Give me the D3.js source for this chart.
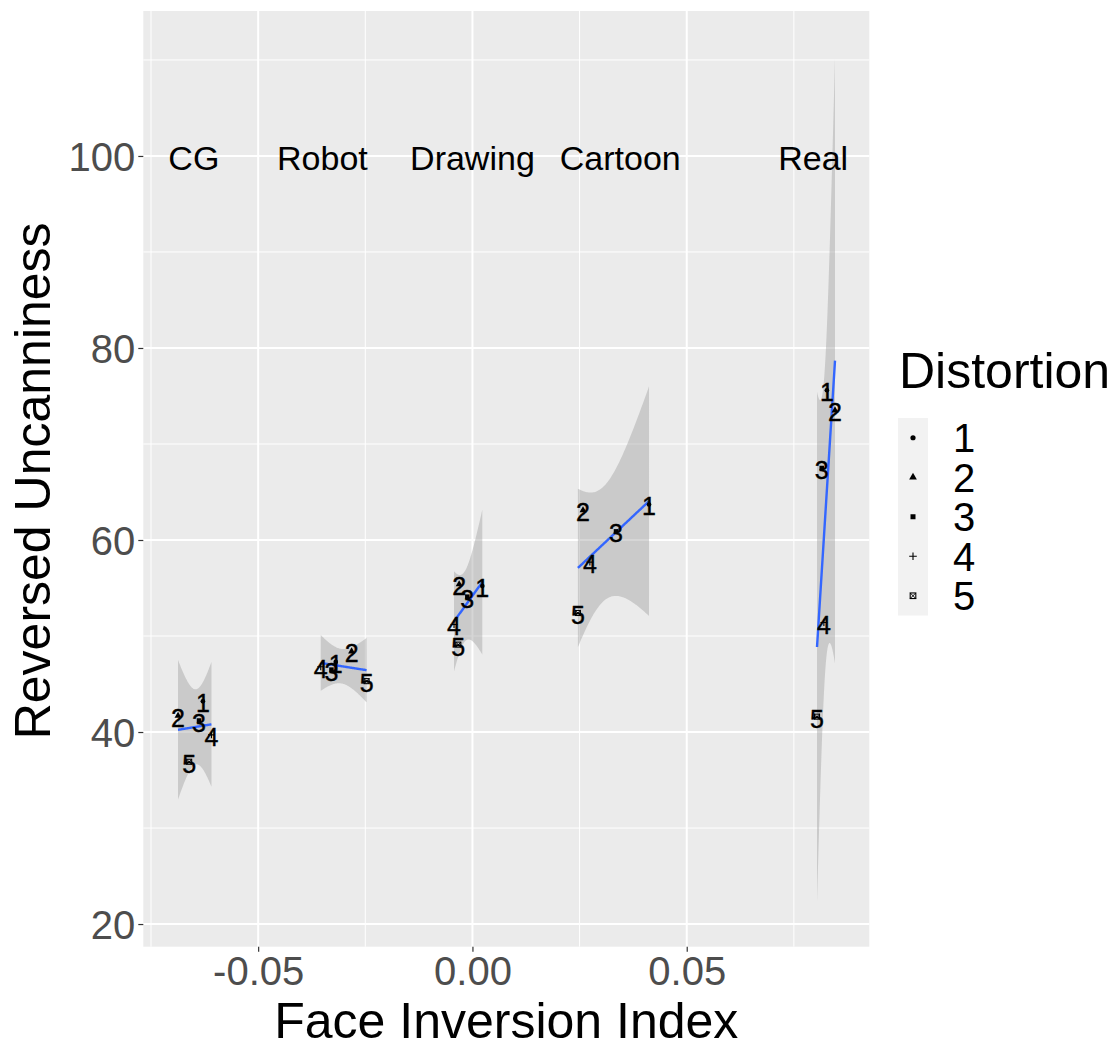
<!DOCTYPE html>
<html>
<head>
<meta charset="utf-8">
<script src="https://cdn.jsdelivr.net/npm/d3@7"></script>
<style>
  body { margin: 0; background: #fff; }
  text { font-family: "Liberation Sans", Arial, sans-serif; }
</style>
</head>
<body>
<svg id="chart" width="1114" height="1046"></svg>
<script>
// face inversion index (x) and reversed uncanniness (y), one entry per distortion level 1..5
const distortion = ["1", "2", "3", "4", "5"];
const groups = ["CG", "Robot", "Drawing", "Cartoon", "Real"];
const groupLabelX = [-0.065, -0.035, 0, 0.0345, 0.0795];

const cgX = [-0.0629, -0.0687, -0.0638, -0.0609, -0.0661];
const cgY = [43.2, 41.7, 41.2, 39.7, 36.9];
const robotX = [-0.0319, -0.0282, -0.0329, -0.0354, -0.0247];
const robotY = [47.3, 48.4, 46.5, 46.8, 45.3];
const drawingX = [0.0023, -0.0031, -0.0012, -0.0043, -0.0033];
const drawingY = [55.2, 55.4, 54.1, 51.2, 49.1];
const cartoonX = [0.0412, 0.0258, 0.0335, 0.0274, 0.0246];
const cartoonY = [63.7, 63.1, 60.9, 57.7, 52.4];
const realX = [0.0827, 0.0846, 0.0815, 0.0820, 0.0804];
const realY = [75.6, 73.5, 67.5, 51.4, 41.6];

const xMajor = [-0.05, 0, 0.05];
const xMinor = [-0.075, -0.025, 0.025, 0.075];
const yMajor = [20, 40, 60, 80, 100];
const yMinor = [30, 50, 70, 90, 110];
const xTickLabels = ["-0.05", "0.00", "0.05"];

const seriesX = [cgX, robotX, drawingX, cartoonX, realX];
const seriesY = [cgY, robotY, drawingY, cartoonY, realY];

const svg = d3.select("#chart");
const panel = {left: 143.3, right: 869.3, top: 11, bottom: 946.7};

const x = d3.scaleLinear().domain([-0.0768, 0.0926]).range([panel.left, panel.right]);
const y = d3.scaleLinear().domain([17.64, 115.1]).range([panel.bottom, panel.top]);

// panel background + grid
svg.append("rect")
    .attr("x", panel.left).attr("y", panel.top)
    .attr("width", panel.right - panel.left).attr("height", panel.bottom - panel.top)
    .attr("fill", "#ebebeb");

svg.append("clipPath").attr("id", "clip")
    .append("rect")
    .attr("x", panel.left).attr("y", panel.top)
    .attr("width", panel.right - panel.left).attr("height", panel.bottom - panel.top);

const grid = svg.append("g");
grid.selectAll(".ymin").data(yMinor).enter().append("line")
    .attr("x1", panel.left).attr("x2", panel.right)
    .attr("y1", d => y(d)).attr("y2", d => y(d))
    .attr("stroke", "#fff").attr("stroke-width", 1);
grid.selectAll(".xmin").data(xMinor).enter().append("line")
    .attr("y1", panel.top).attr("y2", panel.bottom)
    .attr("x1", d => x(d)).attr("x2", d => x(d))
    .attr("stroke", "#fff").attr("stroke-width", 1);
grid.selectAll(".ymaj").data(yMajor).enter().append("line")
    .attr("x1", panel.left).attr("x2", panel.right)
    .attr("y1", d => y(d)).attr("y2", d => y(d))
    .attr("stroke", "#fff").attr("stroke-width", 2);
grid.selectAll(".xmaj").data(xMajor).enter().append("line")
    .attr("y1", panel.top).attr("y2", panel.bottom)
    .attr("x1", d => x(d)).attr("x2", d => x(d))
    .attr("stroke", "#fff").attr("stroke-width", 2);

// linear fit with 95% confidence band, like geom_smooth(method = "lm")
const tCrit = 3.182446; // qt(0.975, df = 3)
const fitLine = (xs, ys) => {
    let n = xs.length;
    let mx = d3.mean(xs), my = d3.mean(ys);
    let sxx = 0, sxy = 0;
    for (let i = 0; i < n; i++) {
        sxx += (xs[i] - mx) * (xs[i] - mx);
        sxy += (xs[i] - mx) * (ys[i] - my);
    }
    let b = sxy / sxx;
    let a = my - b * mx;
    let sse = 0;
    for (let i = 0; i < n; i++) {
        let r = ys[i] - (a + b * xs[i]);
        sse += r * r;
    }
    let s = Math.sqrt(sse / (n - 2));
    let lo = d3.min(xs), hi = d3.max(xs);
    let pts = [];
    for (let k = 0; k < 80; k++) {
        let xv = lo + (hi - lo) * k / 79;
        let fit = a + b * xv;
        let se = s * Math.sqrt(1 / n + (xv - mx) * (xv - mx) / sxx);
        pts.push({x: xv, fit: fit, ymin: fit - tCrit * se, ymax: fit + tCrit * se});
    }
    return pts;
};

const smooth = svg.append("g").attr("clip-path", "url(#clip)");
const band = d3.area().x(d => x(d.x)).y0(d => y(d.ymin)).y1(d => y(d.ymax));
const line = d3.line().x(d => x(d.x)).y(d => y(d.fit));

for (let g = 0; g < groups.length; g++) {
    let pts = fitLine(seriesX[g], seriesY[g]);
    smooth.append("path").datum(pts)
        .attr("d", band)
        .attr("fill", "#999999").attr("fill-opacity", 0.4);
    smooth.append("path").datum(pts)
        .attr("d", line)
        .attr("fill", "none").attr("stroke", "#3366ff").attr("stroke-width", 2.4);
}

// point shapes per distortion level
const drawShape = (sel, level, cx, cy, k) => {
    let g = sel.append("g").attr("transform", "translate(" + cx + "," + cy + ")");
    if (level === "1") {
        g.append("circle").attr("r", 2.6 * k).attr("fill", "#000");
    } else if (level === "2") {
        g.append("path").attr("d", d3.symbol(d3.symbolTriangle, 26 * k * k)()).attr("fill", "#000");
    } else if (level === "3") {
        g.append("rect").attr("x", -2.5 * k).attr("y", -2.5 * k)
            .attr("width", 5 * k).attr("height", 5 * k).attr("fill", "#000");
    } else if (level === "4") {
        g.append("path").attr("d", "M" + (-3.8 * k) + ",0H" + (3.8 * k) + "M0," + (-3.8 * k) + "V" + (3.8 * k))
            .attr("stroke", "#000").attr("stroke-width", 1.1).attr("fill", "none");
    } else {
        let h = 2.8 * k;
        g.append("rect").attr("x", -h).attr("y", -h).attr("width", 2 * h).attr("height", 2 * h)
            .attr("fill", "none").attr("stroke", "#000").attr("stroke-width", 1.1);
        g.append("path").attr("d", "M" + (-h) + "," + (-h) + "L" + h + "," + h + "M" + h + "," + (-h) + "L" + (-h) + "," + h)
            .attr("stroke", "#000").attr("stroke-width", 0.9).attr("fill", "none");
    }
};

const marks = svg.append("g");
for (let g = 0; g < groups.length; g++) {
    for (let i = 0; i < distortion.length; i++) {
        drawShape(marks, distortion[i], x(seriesX[g][i]), y(seriesY[g][i]), 0.9);
    }
}
for (let g = 0; g < groups.length; g++) {
    for (let i = 0; i < distortion.length; i++) {
        marks.append("text")
            .attr("x", x(seriesX[g][i]))
            .attr("y", y(seriesY[g][i]) + 11)
            .attr("text-anchor", "middle")
            .style("font-size", "25px")
            .attr("fill", "#000")
            .attr("stroke", "#000").attr("stroke-width", 0.4)
            .text(distortion[i]);
    }
}

// group names along the top
svg.selectAll(".grp").data(groups).enter().append("text")
    .attr("x", (d, i) => x(groupLabelX[i]))
    .attr("y", y(100) + 14)
    .attr("text-anchor", "middle")
    .style("font-size", "34px")
    .attr("fill", "#000")
    .text(d => d);

// axes
const yAxis = d3.axisLeft(y).tickValues(yMajor).tickSize(5).tickPadding(3);
const yg = svg.append("g").attr("transform", "translate(" + panel.left + ",0)").call(yAxis);
const xAxis = d3.axisBottom(x).tickValues(xMajor).tickSize(5).tickPadding(4)
    .tickFormat((d, i) => xTickLabels[i]);
const xg = svg.append("g").attr("transform", "translate(0," + panel.bottom + ")").call(xAxis);

[yg, xg].forEach(ax => {
    ax.select(".domain").remove();
    ax.selectAll(".tick line").attr("stroke", "#333333").attr("stroke-width", 1.2);
    ax.selectAll(".tick text")
        .attr("fill", "#4d4d4d")
        .style("font-size", "40px")
        .style("font-family", "'Liberation Sans', Arial, sans-serif");
});
yg.selectAll(".tick text").attr("dy", "0.37em");
xg.selectAll(".tick text").attr("dy", "0.74em");

svg.append("text")
    .attr("x", (panel.left + panel.right) / 2)
    .attr("y", 1038)
    .attr("text-anchor", "middle")
    .style("font-size", "50px")
    .attr("fill", "#000")
    .text("Face Inversion Index");

svg.append("text")
    .attr("transform", "translate(50," + ((panel.top + panel.bottom) / 2 + 2) + ") rotate(-90)")
    .attr("text-anchor", "middle")
    .style("font-size", "50px")
    .attr("fill", "#000")
    .text("Reversed Uncanniness");

// legend
const legend = svg.append("g");
legend.append("text")
    .attr("x", 899).attr("y", 388)
    .style("font-size", "50px")
    .attr("fill", "#000")
    .text("Distortion");

const keyTop = 418, keyH = 39.5;
legend.append("rect")
    .attr("x", 898).attr("y", keyTop)
    .attr("width", 30).attr("height", keyH * distortion.length)
    .attr("fill", "#f2f2f2");
distortion.forEach((d, i) => {
    let cy = keyTop + keyH * i + keyH / 2;
    drawShape(legend, d, 913, cy, 1);
    legend.append("text")
        .attr("x", 953).attr("y", cy + 14.5)
        .style("font-size", "40px")
        .attr("fill", "#000")
        .text(d);
});
</script>
</body>
</html>
